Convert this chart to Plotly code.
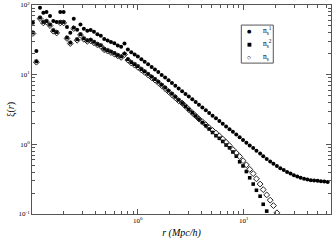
import plotly.graph_objects as go

# separation r (Mpc/h), common grid
r_vals = [0.102, 0.110, 0.119, 0.128, 0.137, 0.148, 0.159, 0.171, 0.185, 0.199,
          0.214, 0.230, 0.248, 0.267, 0.287, 0.309, 0.333, 0.358, 0.385, 0.415,
          0.447, 0.481, 0.518, 0.557, 0.600, 0.646, 0.695, 0.748, 0.805, 0.867,
          0.933, 1.00, 1.08, 1.16, 1.25, 1.35, 1.45, 1.56, 1.68, 1.81,
          1.95, 2.10, 2.26, 2.43, 2.62, 2.82, 3.03, 3.27, 3.52, 3.78,
          4.07, 4.39, 4.72, 5.08, 5.47, 5.89, 6.34, 6.82, 7.35, 7.91,
          8.51, 9.16, 9.86, 10.6, 11.4, 12.3, 13.2, 14.3, 15.3, 16.5,
          17.8, 19.1, 20.6, 22.2, 23.9, 25.7, 27.7, 29.8, 32.1, 34.5,
          37.2, 40.0, 43.1, 46.3, 49.9, 53.7, 57.8, 62.2]

xi_ns1 = [55.7, 21.8, 91.4, 77.6, 79.1, 69.3, 58.7, 56.9, 79.1, 79.1,
          48.2, 40.1, 63.5, 44.3, 52.7, 45.7, 42.7, 43.7, 41.2, 38.0,
          36.3, 32.4, 30.9, 29.5, 28.2, 26.3, 25.1, 27.9, 22.9, 20.9,
          19.5, 18.2, 16.6, 15.3, 14.1, 12.9, 11.9, 10.9, 9.93, 9.08,
          8.30, 7.59, 6.93, 6.34, 5.79, 5.30, 4.84, 4.43, 4.05, 3.70,
          3.38, 3.09, 2.82, 2.58, 2.36, 2.16, 1.97, 1.80, 1.65, 1.51,
          1.38, 1.265, 1.156, 1.057, 0.966, 0.883, 0.807, 0.738, 0.675, 0.618,
          0.569, 0.525, 0.488, 0.455, 0.427, 0.402, 0.380, 0.361, 0.344, 0.331,
          0.321, 0.313, 0.306, 0.302, 0.299, 0.295, 0.292, 0.287]

xi_ns2 = [40.1, 15.5, 65.8, 56.9, 58.7, 52.1, 43.3, 40.8, 56.9, 56.9,
          34.0, 28.8, 47.2, 32.1, 38.0, 33.1, 30.9, 31.6, 29.5, 27.5,
          26.3, 23.4, 22.4, 21.4, 20.4, 19.1, 18.2, 20.0, 16.6, 15.1,
          14.1, 13.2, 12.0, 11.1, 10.2, 9.33, 8.61, 7.87, 7.16, 6.50,
          5.87, 5.31, 4.80, 4.34, 3.92, 3.52, 3.16, 2.84, 2.55, 2.30,
          2.06, 1.85, 1.66, 1.48, 1.33, 1.22, 1.10, 0.977, 0.891, 0.776,
          0.676, 0.562, 0.490, 0.407, 0.331, 0.269, 0.219, 0.180, 0.138, 0.110]

xi_ns = [39.0, 15.1, 64.0, 55.4, 57.1, 50.7, 42.1, 39.7, 55.4, 55.4,
         33.1, 28.0, 45.9, 31.2, 37.0, 32.2, 30.1, 30.7, 28.7, 26.8,
         25.6, 22.8, 21.8, 20.8, 19.8, 18.6, 17.7, 19.5, 16.2, 14.7,
         13.7, 12.8, 11.7, 10.8, 9.92, 9.08, 8.38, 7.66, 6.97, 6.32,
         5.71, 5.17, 4.67, 4.22, 3.92, 3.52, 3.16, 2.84, 2.56, 2.31,
         2.11, 1.91, 1.73, 1.58, 1.45, 1.32, 1.19, 1.07, 0.955, 0.841,
         0.750, 0.668, 0.582, 0.507, 0.437, 0.380, 0.320, 0.269, 0.224, 0.188,
         0.158, 0.132, 0.104]

x_tickvals = [1, 10]
x_ticktext = ["10<sup>0</sup>", "10<sup>1</sup>"]
y_tickvals = [0.1, 1, 10, 100]
y_ticktext = ["10<sup>-1</sup>", "10<sup>0</sup>", "10<sup>1</sup>", "10<sup>2</sup>"]

names = ["n<sub>s</sub><sup>1</sup>", "n<sub>s</sub><sup>2</sup>", "n<sub>s</sub>"]
legend_symbols = ["●", "■", "◇"]

FONT = "Liberation Serif"
AX = "#555555"

fig = go.Figure()
fig.add_trace(go.Scatter(x=r_vals[:len(xi_ns1)], y=xi_ns1, mode="markers", name=names[0],
                         marker=dict(symbol="circle", size=4, color="black", line=dict(width=0))))
fig.add_trace(go.Scatter(x=r_vals[:len(xi_ns2)], y=xi_ns2, mode="markers", name=names[1],
                         marker=dict(symbol="square", size=3.6, color="black", line=dict(width=0))))
fig.add_trace(go.Scatter(x=r_vals[:len(xi_ns)], y=xi_ns, mode="markers", name=names[2],
                         marker=dict(symbol="diamond-open", size=4.5, color="#222222", line=dict(width=1))))

minor_x = [m * 10 ** e for e in (-1, 0, 1) for m in range(2, 10)]
minor_y = [m * 10 ** e for e in (-1, 0, 1) for m in range(2, 10)]

fig.update_xaxes(type="log", range=[-1, 1.825], tickmode="array", tickvals=x_tickvals,
                 ticktext=x_ticktext, ticks="inside", ticklen=5, tickcolor=AX, tickwidth=1,
                 showline=True, linecolor=AX, linewidth=1, mirror="allticks",
                 showgrid=False, zeroline=False,
                 minor=dict(tickmode="array", tickvals=minor_x, ticks="inside", ticklen=3,
                            tickcolor=AX, showgrid=False),
                 tickfont=dict(family=FONT, size=7, color="black"),
                 title=dict(text="<i>r (Mpc/h)</i>", font=dict(family=FONT, size=10, color="black"),
                            standoff=4))
fig.update_yaxes(type="log", range=[-1, 2], tickmode="array", tickvals=y_tickvals,
                 ticktext=y_ticktext, ticks="inside", ticklen=5, tickcolor=AX, tickwidth=1,
                 showline=True, linecolor=AX, linewidth=1, mirror="allticks",
                 showgrid=False, zeroline=False,
                 minor=dict(tickmode="array", tickvals=minor_y, ticks="inside", ticklen=3,
                            tickcolor=AX, showgrid=False),
                 tickfont=dict(family=FONT, size=7, color="black"),
                 title=dict(text="ξ(<i>r</i>)", font=dict(family=FONT, size=10, color="black"),
                            standoff=2))

# legend box drawn as shape + text entries
fig.add_shape(type="rect", xref="paper", yref="paper", x0=0.700, x1=0.807, y0=0.722, y1=0.904,
              line=dict(color=AX, width=1), fillcolor="white", layer="above")
legend_y = [0.876, 0.815, 0.753]
for sym, nm, yy in zip(legend_symbols, names, legend_y):
    fig.add_annotation(xref="paper", yref="paper", x=0.727, y=yy, text=sym, showarrow=False,
                       xanchor="center", yanchor="middle",
                       font=dict(family="DejaVu Sans", size=5, color="black"))
    fig.add_annotation(xref="paper", yref="paper", x=0.766, y=yy, text=nm, showarrow=False,
                       xanchor="left", yanchor="middle",
                       font=dict(family=FONT, size=7.5, color="black"))

fig.update_layout(width=332, height=241, margin=dict(l=32, r=1, t=5, b=27),
                  paper_bgcolor="white", plot_bgcolor="white",
                  font=dict(family=FONT, color="black"),
                  showlegend=False, hovermode=False)

fig.write_html("out.html", config={"displayModeBar": False, "staticPlot": True},
               post_script="document.body.style.margin='0';document.body.style.overflow='hidden';")
